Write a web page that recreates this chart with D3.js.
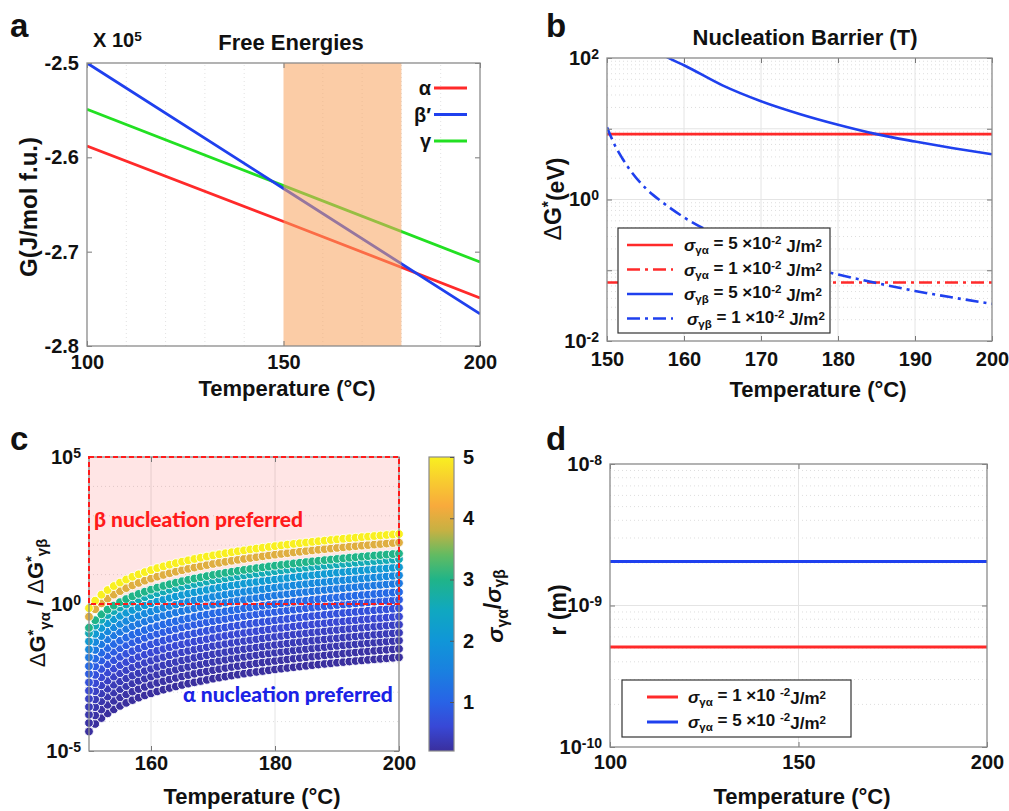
<!DOCTYPE html>
<html>
<head>
<meta charset="utf-8">
<script src="https://cdn.jsdelivr.net/npm/d3@7"></script>
<style>
body { margin: 0; background: #fff; }
svg { font-family: "Liberation Sans", Arial, sans-serif; font-weight: bold; }
</style>
</head>
<body>
<div id="c"></div>
<script>
// ---- panel a: free energies (x 10^5 J/mol f.u.)
var tempA = [100, 150, 200];
var gAlpha = [-2.588, -2.668, -2.749];
var gBeta = [-2.500, -2.633, -2.766];
var gGamma = [-2.549, -2.630, -2.711];
var shadeT = [150, 180];
var phaseNames = ["α", "β′", "γ"];

// ---- panel b: nucleation barrier (eV)
var tempB = [150, 200];
var gaHigh = [8.4, 8.4];
var gaLow = [0.067, 0.067];
var tempGbHigh = [157.5, 158, 160, 165, 170, 175, 180, 185, 190, 195, 200];
var gbHigh = [108, 100, 79, 41, 24.5, 16.2, 11.4, 8.4, 6.6, 5.3, 4.35];
var tempGbLow = [150, 151, 152, 153, 155, 157, 160, 165, 170, 175, 180, 185, 190, 195, 200];
var gbLow = [10.5, 5.9, 3.8, 2.6, 1.45, 0.95, 0.56, 0.29, 0.18, 0.12, 0.087, 0.066, 0.051, 0.041, 0.0335];
var legendB = ["5", "1", "5", "1"];

// ---- panel c: barrier ratio, one row per sigma ratio
var tempC = d3.range(150, 201, 1);
var baseRatio = [0.00577, 0.0104, 0.0165, 0.0239, 0.0327, 0.0428, 0.0544, 0.0673, 0.0816, 0.0972,
  0.114, 0.133, 0.152, 0.174, 0.196, 0.220, 0.245, 0.272, 0.300, 0.329,
  0.360, 0.392, 0.426, 0.461, 0.497, 0.534, 0.573, 0.614, 0.656, 0.699,
  0.743, 0.789, 0.836, 0.885, 0.935, 0.986, 1.039, 1.093, 1.148, 1.205,
  1.263, 1.323, 1.384, 1.446, 1.510, 1.575, 1.642, 1.709, 1.779, 1.849, 1.921];
var sigmaRatio = [0.2, 0.25, 0.31, 0.38, 0.47, 0.58, 0.72, 0.9, 1.1, 1.38, 1.7, 2.1, 2.6, 3.0, 4.0, 5.0];
var cbarTicks = [1, 2, 3, 4, 5];

// ---- panel d: critical radius (m)
var tempD = [100, 200];
var rAlpha1 = [5.1e-10, 5.1e-10];
var rAlpha5 = [2.05e-9, 2.05e-9];
var legendD = ["1", "5"];

// colormap stops (sigma ratio -> colour), close to the figure's parula bar
var cmapVals = [0.2, 0.6, 1.0, 1.5, 2.0, 2.5, 3.0, 3.4, 3.8, 4.2, 4.6, 5.0];
var cmapCols = ["#3a2f9e", "#3848d6", "#2863e6", "#1a80e0", "#1096d8", "#10a8c0",
  "#20b488", "#62bb62", "#c6b143", "#f8aa3c", "#f8cb30", "#f9f020"];

var RED = "#ff2a2a", BLUE = "#1f40ee", GREEN = "#22e022";
var FONT = "'Liberation Sans', Arial, sans-serif";

var width = 1009, height = 811;
var svg = d3.select("#c").append("svg")
	.attr("width", width)
	.attr("height", height);
svg.append("rect").attr("width", width).attr("height", height).attr("fill", "#fff");
var defs = svg.append("defs");

// text with sub/superscripts: parts = [[text, mode]], mode n | i | sub | sup | thin
function rich(t, parts) {
	var shift = 0;
	parts.forEach(function(p) {
		var ts = t.append("tspan").text(p[0]);
		var target = p[1] == "sub" ? 0.3 : (p[1] == "sup" ? -0.45 : 0);
		if (target != shift) { ts.attr("dy", (target - shift) + "em"); shift = target; }
		if (p[1] == "sub" || p[1] == "sup") ts.attr("font-size", "0.68em");
		if (p[1] == "i") ts.attr("font-style", "italic");
		if (p[1] == "thin") ts.attr("font-weight", "normal");
	});
	return t;
}

function clip(id, x, y) {
	defs.append("clipPath").attr("id", id).append("rect")
		.attr("x", x.range()[0]).attr("y", y.range()[1])
		.attr("width", x.range()[1] - x.range()[0])
		.attr("height", y.range()[0] - y.range()[1]);
}

function gridX(g, x, y, vals, dotted) {
	g.selectAll(null).data(vals).enter().append("line")
		.attr("x1", x).attr("x2", x)
		.attr("y1", y.range()[0]).attr("y2", y.range()[1])
		.attr("stroke", dotted ? "#e2e2e2" : "#e4e4e4")
		.attr("stroke-width", 1)
		.attr("stroke-dasharray", dotted ? "1,3" : null);
}
function gridY(g, x, y, vals, dotted) {
	g.selectAll(null).data(vals).enter().append("line")
		.attr("y1", y).attr("y2", y)
		.attr("x1", x.range()[0]).attr("x2", x.range()[1])
		.attr("stroke", dotted ? "#dedede" : "#e4e4e4")
		.attr("stroke-width", 1)
		.attr("stroke-dasharray", dotted ? "1,3" : null);
}

function minorLog(lo, hi) {
	var out = [];
	for (var e = lo; e < hi; e++) for (var m = 2; m <= 9; m++) out.push(m * Math.pow(10, e));
	return out;
}

// axes box in the matlab style: ticks inward on all four sides
function axesBox(g, x, y, o) {
	var bottom = y.range()[0], top = y.range()[1], left = x.range()[0], right = x.range()[1];
	var ax = g.append("g")
		.attr("transform", "translate(0," + bottom + ")")
		.call(d3.axisBottom(x).tickValues(o.xt).tickSize(-5).tickPadding(o.xpad || 9).tickFormat(d3.format("d")));
	g.append("g")
		.attr("transform", "translate(0," + top + ")")
		.call(d3.axisTop(x).tickValues(o.xt).tickSize(-5).tickFormat(""));
	var ay = g.append("g")
		.attr("transform", "translate(" + left + ",0)")
		.call(d3.axisLeft(y).tickValues(o.yt).tickSize(-5).tickPadding(8)
			.tickFormat(o.log ? "" : function(d) { return d.toFixed(1); }));
	g.append("g")
		.attr("transform", "translate(" + right + ",0)")
		.call(d3.axisRight(y).tickValues(o.yt).tickSize(-5).tickFormat(""));
	g.selectAll(".domain").remove();
	g.selectAll(".tick line").attr("stroke", "#777");
	g.selectAll("g").attr("font-family", FONT).attr("font-size", 20).attr("font-weight", "bold");
	g.selectAll(".tick text").attr("fill", "#111");
	if (o.log) {
		ay.selectAll(".tick text").each(function(d) {
			var ex = Math.round(Math.log10(d));
			if (o.ylab.indexOf(ex) < 0) return;
			var t = d3.select(this).text("");
			t.append("tspan").text("10");
			t.append("tspan").attr("dy", "-0.45em").attr("font-size", 14).text(ex);
		});
	}
	g.append("rect")
		.attr("x", left).attr("y", top)
		.attr("width", right - left).attr("height", bottom - top)
		.attr("fill", "none").attr("stroke", "#8a8a8a").attr("stroke-width", 1.3);
}

function label(x, y, txt, size, rot) {
	return svg.append("text")
		.attr("transform", "translate(" + x + "," + y + ")" + (rot ? " rotate(-90)" : ""))
		.attr("text-anchor", "middle")
		.attr("font-size", size)
		.attr("fill", "#111")
		.text(txt);
}

// panel letters
[["a", 10, 37], ["b", 546, 37], ["c", 10, 450], ["d", 546, 450]].forEach(function(p) {
	svg.append("text").attr("x", p[1]).attr("y", p[2]).attr("font-size", 33).attr("fill", "#111").text(p[0]);
});

/////////////////// panel a
var xa = d3.scaleLinear().domain([100, 200]).range([87, 480]);
var ya = d3.scaleLinear().domain([-2.8, -2.5]).range([346, 63]);
var ga = svg.append("g");
clip("clip-a", xa, ya);
gridX(ga, xa, ya, [110, 120, 130, 140, 160, 170, 180, 190], true);

var lineA = function(vals) {
	return d3.line().x(function(d, i) { return xa(tempA[i]); }).y(function(d) { return ya(d); })(vals);
};
var plotA = ga.append("g").attr("clip-path", "url(#clip-a)");
[[gAlpha, RED], [gGamma, GREEN], [gBeta, BLUE]].forEach(function(s) {
	plotA.append("path").attr("d", lineA(s[0]))
		.attr("fill", "none").attr("stroke", s[1]).attr("stroke-width", 2.8);
});
plotA.append("rect")
	.attr("x", xa(shadeT[0])).attr("y", ya.range()[1])
	.attr("width", xa(shadeT[1]) - xa(shadeT[0]))
	.attr("height", ya.range()[0] - ya.range()[1])
	.attr("fill", "#f7a35c").attr("fill-opacity", 0.55);

axesBox(ga, xa, ya, { xt: [100, 150, 200], yt: [-2.8, -2.7, -2.6, -2.5] });

[RED, BLUE, GREEN].forEach(function(c, i) {
	var yy = 88 + i * 26.5;
	ga.append("text").attr("x", 431).attr("y", yy).attr("dy", "0.35em")
		.attr("text-anchor", "end").attr("font-size", 20).attr("fill", "#111").text(phaseNames[i]);
	ga.append("line").attr("x1", 434).attr("x2", 467).attr("y1", yy).attr("y2", yy)
		.attr("stroke", c).attr("stroke-width", 2.8);
});

rich(svg.append("text").attr("x", 93).attr("y", 47).attr("font-size", 20).attr("fill", "#111"),
	[["X 10", "n"], ["5", "sup"]]);
label(291, 50, "Free Energies", 22);
label(37, 207, "G(J/mol f.u.)", 24, true);
label(287, 396, "Temperature (°C)", 22);

/////////////////// panel b
var xb = d3.scaleLinear().domain([150, 200]).range([607, 992]);
var yb = d3.scaleLog().domain([1e-2, 1e2]).range([341, 58]);
var gb = svg.append("g");
clip("clip-b", xb, yb);
gridY(gb, xb, yb, minorLog(-2, 2), true);
gridX(gb, xb, yb, [160, 170, 180, 190], false);
gridY(gb, xb, yb, [1e-1, 1, 10], false);

var plotB = gb.append("g").attr("clip-path", "url(#clip-b)");
var DASHDOT = "13,5,3,5";
function lineB(ts, vals) {
	return d3.line().curve(d3.curveMonotoneX)
		.x(function(d, i) { return xb(ts[i]); }).y(function(d) { return yb(d); })(vals);
}
var seriesB = [[tempB, gaHigh, RED, null], [tempB, gaLow, RED, DASHDOT],
	[tempGbHigh, gbHigh, BLUE, null], [tempGbLow, gbLow, BLUE, DASHDOT]];
seriesB.forEach(function(s) {
	plotB.append("path").attr("d", lineB(s[0], s[1]))
		.attr("fill", "none").attr("stroke", s[2]).attr("stroke-width", 2.6)
		.attr("stroke-dasharray", s[3]);
});

axesBox(gb, xb, yb, { xt: [150, 160, 170, 180, 190, 200], yt: [1e-2, 1e-1, 1, 10, 100], log: true, ylab: [-2, 0, 2], xpad: 11 });

var legB = gb.append("g");
legB.append("rect").attr("x", 618).attr("y", 228).attr("width", 212).attr("height", 105)
	.attr("fill", "#fff").attr("stroke", "#333").attr("stroke-width", 1.2);
seriesB.forEach(function(s, i) {
	var yy = 245 + i * 24.5;
	legB.append("line").attr("x1", 627).attr("x2", 673).attr("y1", yy).attr("y2", yy)
		.attr("stroke", s[2]).attr("stroke-width", 2.6).attr("stroke-dasharray", s[3]);
	rich(legB.append("text").attr("x", i == 3 ? 687 : 684).attr("y", yy + 6).attr("font-size", 17).attr("fill", "#111"),
		[["σ", "i"], [i < 2 ? "γα" : "γβ", "sub"], [" = " + legendB[i] + " ×10", "n"], ["-2", "sup"], [" J/m", "n"], ["2", "sup"]]);
});

label(805, 45, "Nucleation Barrier (T)", 22);
rich(svg.append("text").attr("transform", "translate(561,199) rotate(-90)").attr("text-anchor", "middle")
	.attr("font-size", 23).attr("fill", "#111"),
	[["Δ", "thin"], ["G", "n"], ["*", "sup"], ["(eV)", "n"]]);
label(818, 397, "Temperature (°C)", 22);

/////////////////// panel c
var xc = d3.scaleLinear().domain([150, 200]).range([89, 399]);
var yc = d3.scaleLog().domain([1e-5, 1e5]).range([751, 457]);
var color = d3.scaleLinear().domain(cmapVals).range(cmapCols);
var gc = svg.append("g");
clip("clip-c", xc, yc);
gridY(gc, xc, yc, [1e-4, 1e-3, 1e-2, 1e-1, 10, 100, 1e3, 1e4], true);
gridX(gc, xc, yc, [160, 180], false);
gridY(gc, xc, yc, [1], false);

gc.append("rect")
	.attr("x", xc(150)).attr("y", yc(1e5))
	.attr("width", xc(200) - xc(150)).attr("height", yc(1) - yc(1e5))
	.attr("fill", "#ff0000").attr("fill-opacity", 0.1);

var rows = gc.append("g");
sigmaRatio.forEach(function(s) {
	rows.append("g").selectAll("circle")
		.data(baseRatio)
		.enter()
		.append("circle")
		.attr("cx", function(d, i) { return xc(tempC[i]); })
		.attr("cy", function(d) { return yc(d * s * s * s); })
		.attr("r", 4.4)
		.attr("fill", color(s))
		.attr("stroke", "#fff")
		.attr("stroke-width", 0.9);
});

axesBox(gc, xc, yc, { xt: [160, 180, 200], yt: [1e-5, 1, 1e5], log: true, ylab: [-5, 0, 5], xpad: 5 });

gc.append("rect")
	.attr("x", xc(150)).attr("y", yc(1e5))
	.attr("width", xc(200) - xc(150)).attr("height", yc(1) - yc(1e5))
	.attr("fill", "none").attr("stroke", "#ff1a1a").attr("stroke-width", 2)
	.attr("stroke-dasharray", "5,3");

gc.append("text").attr("x", 94).attr("y", 527).attr("font-family", "Lato, 'Open Sans', sans-serif")
	.attr("font-size", 21).attr("font-weight", 900).attr("fill", "#ff1a1a").text("β nucleation preferred");
gc.append("text").attr("x", 183).attr("y", 702).attr("font-family", "Lato, 'Open Sans', sans-serif")
	.attr("font-size", 21).attr("font-weight", 900).attr("fill", "#1a22e6").text("α nucleation preferred");

// colorbar
var cb = svg.append("g");
var cbY = d3.scaleLinear().domain([0.2, 5]).range([751, 457]);
var grad = defs.append("linearGradient").attr("id", "cmap")
	.attr("x1", "0%").attr("y1", "100%").attr("x2", "0%").attr("y2", "0%");
cmapVals.forEach(function(v, i) {
	grad.append("stop").attr("offset", (100 * (v - 0.2) / 4.8) + "%").attr("stop-color", cmapCols[i]);
});
cb.append("rect").attr("x", 429).attr("y", 457).attr("width", 25).attr("height", 294)
	.attr("fill", "url(#cmap)").attr("stroke", "#8a8a8a").attr("stroke-width", 1.2);
cb.append("g")
	.attr("transform", "translate(454,0)")
	.call(d3.axisRight(cbY).tickValues(cbarTicks).tickSize(-4).tickPadding(9).tickFormat(d3.format("d")))
	.attr("font-family", FONT).attr("font-size", 20).attr("font-weight", "bold")
	.call(function(g) { g.select(".domain").remove(); g.selectAll(".tick line").attr("stroke", "#555"); g.selectAll(".tick text").attr("fill", "#111"); });

rich(svg.append("text").attr("transform", "translate(503,606) rotate(-90)").attr("text-anchor", "middle")
	.attr("font-size", 23).attr("fill", "#111"),
	[["σ", "i"], ["γα", "sub"], ["/", "n"], ["σ", "i"], ["γβ", "sub"]]);
rich(svg.append("text").attr("transform", "translate(45,603) rotate(-90)").attr("text-anchor", "middle")
	.attr("font-size", 22).attr("fill", "#111"),
	[["Δ", "thin"], ["G", "n"], ["*", "sup"], ["γα", "sub"], [" / ", "n"], ["Δ", "thin"], ["G", "n"], ["*", "sup"], ["γβ", "sub"]]);
label(252, 804, "Temperature (°C)", 22);

/////////////////// panel d
var xd = d3.scaleLinear().domain([100, 200]).range([610, 987]);
var yd = d3.scaleLog().domain([1e-10, 1e-8]).range([747, 464]);
var gd = svg.append("g");
clip("clip-d", xd, yd);
gridY(gd, xd, yd, minorLog(-10, -8), true);
gridX(gd, xd, yd, [150], false);
gridY(gd, xd, yd, [1e-9], false);

var plotD = gd.append("g").attr("clip-path", "url(#clip-d)");
var lineD = function(vals) {
	return d3.line().x(function(d, i) { return xd(tempD[i]); }).y(function(d) { return yd(d); })(vals);
};
[[rAlpha1, RED], [rAlpha5, BLUE]].forEach(function(s) {
	plotD.append("path").attr("d", lineD(s[0]))
		.attr("fill", "none").attr("stroke", s[1]).attr("stroke-width", 3);
});

axesBox(gd, xd, yd, { xt: [100, 150, 200], yt: [1e-10, 1e-9, 1e-8], log: true, ylab: [-10, -9, -8], xpad: 8 });

var legD = gd.append("g");
legD.append("rect").attr("x", 622).attr("y", 680).attr("width", 229).attr("height", 57)
	.attr("fill", "#fff").attr("stroke", "#333").attr("stroke-width", 1.2);
[RED, BLUE].forEach(function(c, i) {
	var yy = 697 + i * 25;
	legD.append("line").attr("x1", 647).attr("x2", 678).attr("y1", yy).attr("y2", yy)
		.attr("stroke", c).attr("stroke-width", 3);
	rich(legD.append("text").attr("x", 688).attr("y", yy + 6).attr("font-size", 17).attr("fill", "#111"),
		[["σ", "i"], ["γα", "sub"], [" = " + legendD[i] + " ×10 ", "n"], ["-2", "sup"], ["J/m", "n"], ["2", "sup"]]);
});

rich(svg.append("text").attr("transform", "translate(566,610) rotate(-90)").attr("text-anchor", "middle")
	.attr("font-size", 23).attr("fill", "#111"), [["r (m)", "n"]]);
label(802, 804, "Temperature (°C)", 22);
</script>
</body>
</html>
